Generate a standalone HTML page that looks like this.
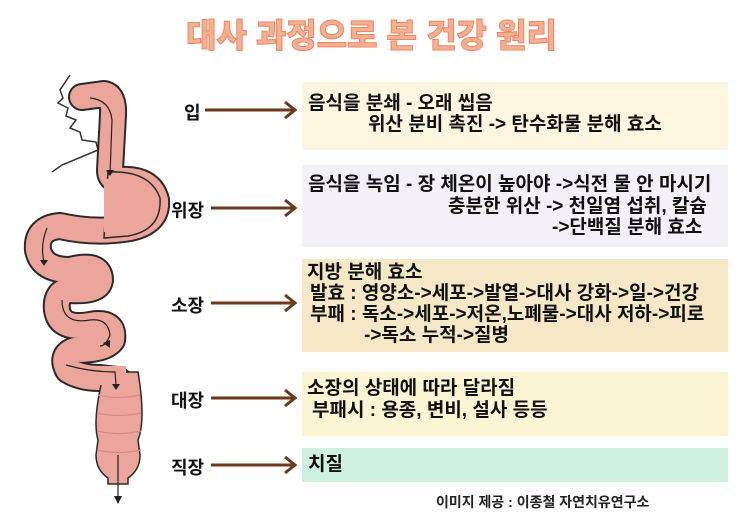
<!DOCTYPE html>
<html><head><meta charset="utf-8"><style>
body{margin:0;width:743px;height:520px;background:#fff;position:relative;overflow:hidden;font-family:"Liberation Sans","Noto Sans CJK KR",sans-serif}
.t{position:absolute;left:0;width:743px;top:9px;text-align:center;font-size:33px;font-weight:900;color:#f6b08e;-webkit-text-stroke:1px #e9866a}
.box{position:absolute;left:302px;width:426px;font-weight:bold;font-size:19px;line-height:21px;color:#111;letter-spacing:0px}
.box div{white-space:nowrap}
.lbl{position:absolute;font-weight:bold;font-size:18px;color:#111}
</style></head><body>
<div class="t">대사 과정으로 본 건강 원리</div>

<div class="box" style="top:82px;height:68px;background:#fcf6e0">
<div style="position:absolute;left:6px;top:11px">음식을 분쇄 - 오래 씹음</div>
<div style="position:absolute;left:66px;top:32px">위산 분비 촉진 -&gt; 탄수화물 분해 효소</div></div>

<div class="box" style="top:165px;height:82px;background:#f4f0f8">
<div style="position:absolute;left:6px;top:9px">음식을 녹임 - 장 체온이 높아야 -&gt;식전 물 안 마시기</div>
<div style="position:absolute;left:146px;top:31px">충분한 위산 -&gt; 천일염 섭취, 칼슘</div>
<div style="position:absolute;left:250px;top:52px">-&gt;단백질 분해 효소</div></div>

<div class="box" style="top:259px;height:93px;background:#f6e8c6">
<div style="position:absolute;left:5px;top:3px">지방 분해 효소</div>
<div style="position:absolute;left:8px;top:24px">발효 : 영양소-&gt;세포-&gt;발열-&gt;대사 강화-&gt;일-&gt;건강</div>
<div style="position:absolute;left:8px;top:45px">부패 : 독소-&gt;세포-&gt;저온,노폐물-&gt;대사 저하-&gt;피로</div>
<div style="position:absolute;left:62px;top:66px">-&gt;독소 누적-&gt;질병</div></div>

<div class="box" style="top:372px;height:64px;background:#fcf5d4">
<div style="position:absolute;left:5px;top:6px">소장의 상태에 따라 달라짐</div>
<div style="position:absolute;left:10px;top:28px">부패시 : 용종, 변비, 설사 등등</div></div>

<div class="box" style="top:448px;height:34px;background:#cdf0e0">
<div style="position:absolute;left:6px;top:6px">치질</div></div>

<div style="position:absolute;left:436px;top:492px;font-weight:bold;font-size:14px;color:#222">이미지 제공 : 이종철 자연치유연구소</div>

<div class="lbl" style="left:184px;top:99px">입</div>
<div class="lbl" style="left:171px;top:197px">위장</div>
<div class="lbl" style="left:171px;top:292px">소장</div>
<div class="lbl" style="left:171px;top:387px">대장</div>
<div class="lbl" style="left:171px;top:454px">직장</div>

<svg width="743" height="520" style="position:absolute;left:0;top:0">
<g stroke="#6b3a1c" stroke-width="3" fill="none">
<line x1="205" y1="110" x2="295" y2="110"/><polyline points="285,102 295,110 285,118"/>
<line x1="211" y1="208" x2="295" y2="208"/><polyline points="285,200 295,208 285,216"/>
<line x1="211" y1="303" x2="295" y2="303"/><polyline points="285,295 295,303 285,311"/>
<line x1="211" y1="398" x2="295" y2="398"/><polyline points="285,390 295,398 285,406"/>
<line x1="211" y1="465" x2="295" y2="465"/><polyline points="285,457 295,465 285,473"/>
</g>
<path d="M70,75 L60,90 L63,98 L58,103 L68,108 L66,116 L76,120 L70,128 L80,132 L82,140 L96,142 L98,150 L62,165 L52,172" stroke="#333" stroke-width="1.5" fill="none"/>
<g fill="none" stroke-linecap="round" stroke-linejoin="round">
<path d="M82,97 L104,94 Q114,96 113,115 L110,170 Q110,180 120,180 Q150,178 156,200 Q158,222 130,228 Q95,234 60,226 Q36,228 38,250 Q42,270 70,270 Q100,262 100,280 Q98,292 70,290 Q55,292 57,310 Q60,330 90,325 Q115,320 112,340 Q105,350 75,350 Q60,355 68,370 Q80,378 100,378 L118,380" stroke="#2a2a2a" stroke-width="28"/>
<path d="M82,97 L104,94 Q114,96 113,115 L110,170 Q110,180 120,180 Q150,178 156,200 Q158,222 130,228 Q95,234 60,226 Q36,228 38,250 Q42,270 70,270 Q100,262 100,280 Q98,292 70,290 Q55,292 57,310 Q60,330 90,325 Q115,320 112,340 Q105,350 75,350 Q60,355 68,370 Q80,378 100,378 L118,380" stroke="#eca59b" stroke-width="24"/>
</g>
<path d="M108,172 Q150,170 160,198 Q162,230 128,236 L104,238 Z" fill="#eca59b" stroke="#2a2a2a" stroke-width="1.5"/>
<path d="M104,180 L104,232 L130,230 Q156,222 156,200 Q150,176 116,176Z" fill="#eca59b"/>
<path d="M104,372 L138,372 Q146,420 138,440 L140,455 Q140,470 128,478 L128,484 L108,484 L108,478 Q96,470 96,455 L98,440 Q92,420 104,372 Z" fill="#eca59b" stroke="#2a2a2a" stroke-width="1.5"/>
<path d="M98,366 L126,366 L126,385 L98,385Z" fill="#eca59b"/>
<g stroke="#d88a80" stroke-width="1.2" fill="none">
<path d="M98,395 Q118,400 140,395"/><path d="M97,413 Q118,418 141,413"/><path d="M97,431 Q118,436 141,431"/><path d="M97,450 Q118,455 141,450"/>
</g>
<g stroke="#222" stroke-width="1.2" fill="none">
<path d="M90,98 Q110,100 112,120 L110,175"/>
<path d="M47,228 Q40,245 44,262"/>
<path d="M62,300 Q62,325 90,320 Q108,318 110,335 Q106,346 100,346"/>
<path d="M66,365 Q90,372 115,372 L116,385"/>
<line x1="118" y1="455" x2="118" y2="498"/>
</g>
<g fill="#222"><polygon points="114,496 122,496 118,504"/><polygon points="112,384 120,384 116,390"/><polygon points="103,343 110,340 110,348"/><polygon points="40,260 48,260 44,266"/><polygon points="106,170 114,170 110,176"/></g>
</svg>
</body></html>
